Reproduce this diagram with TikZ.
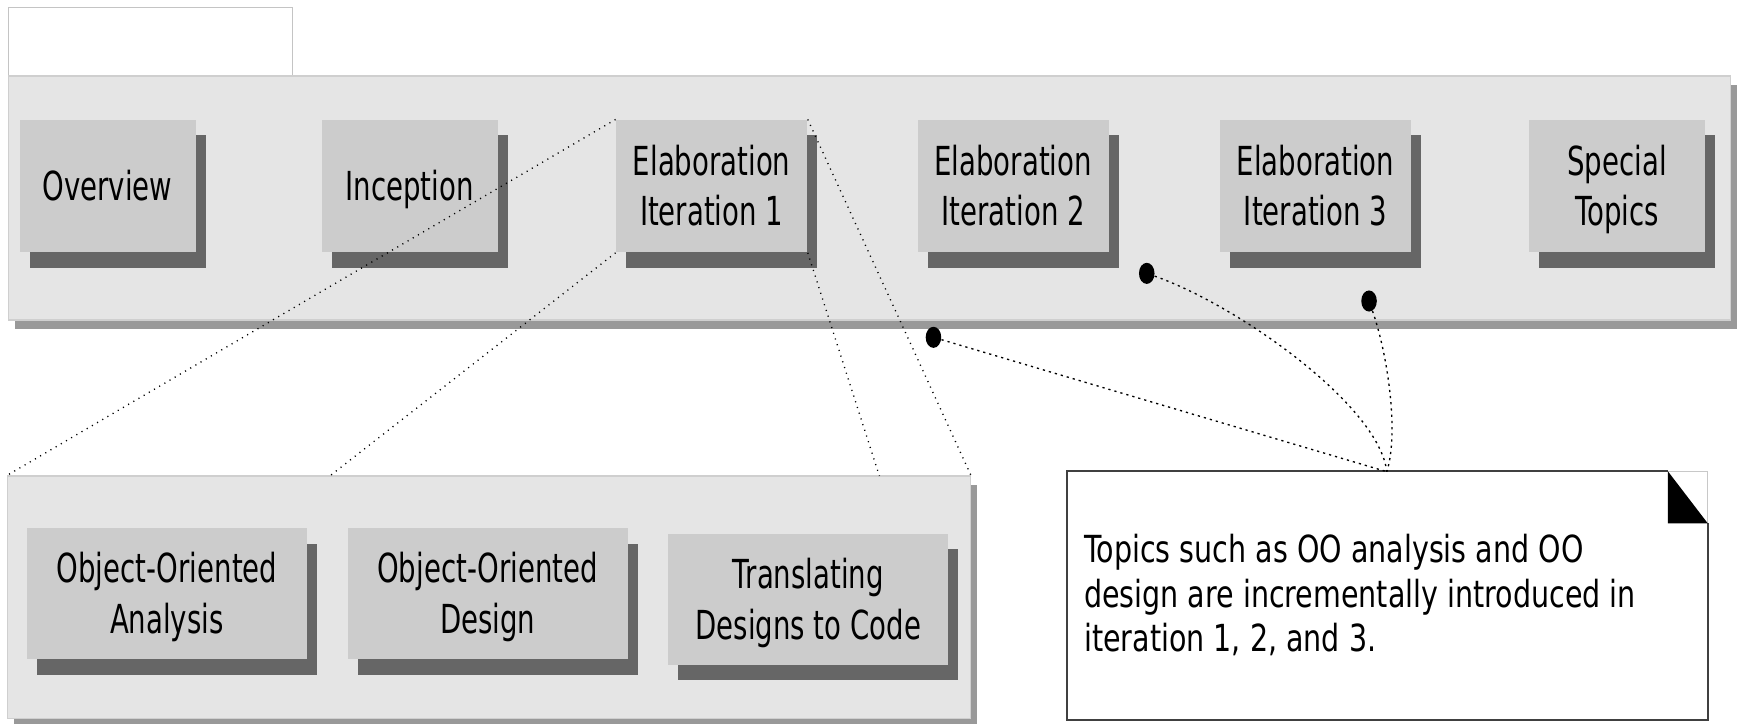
\documentclass[tikz,border=0pt]{standalone}
\usepackage{fontspec}
\setmainfont{DejaVu Sans}[FakeStretch=0.69]
\newfontfamily\notefont{DejaVu Sans}[FakeStretch=0.765]
\usetikzlibrary{shapes.geometric,shadows,calc}
\definecolor{boxfill}{HTML}{CCCCCC}
\definecolor{boxshadow}{HTML}{666666}
\definecolor{panelfill}{HTML}{E5E5E5}
\definecolor{panelshadow}{HTML}{999999}
\definecolor{panelline}{HTML}{CFCFCF}
\definecolor{tabline}{HTML}{C4C4C4}
\definecolor{noteline}{HTML}{404040}
\definecolor{cornerline}{HTML}{C8C8C8}
\newcommand\boxstrut{\rule[-4.75pt]{0pt}{22.5pt}}
\newcommand\subboxstrut{\rule[-5pt]{0pt}{23pt}}
\begin{document}
\begin{tikzpicture}[x=0.5pt,y=-0.5pt,
  panel/.style={rectangle, fill=panelfill, draw=panelline, line width=0.5pt, inner sep=0pt,
    general shadow={fill=panelshadow, draw=none, shadow xshift=3pt, shadow yshift=-4pt}},
  tabbox/.style={rectangle, fill=white, draw=tabline, line width=0.5pt, inner sep=0pt},
  stepbox/.style={rectangle, fill=boxfill, draw=none, inner sep=0pt, align=center,
    font=\fontsize{18}{22.5}\selectfont,
    general shadow={fill=boxshadow, draw=none, shadow xshift=4.5pt, shadow yshift=-7pt}},
  narrowbox/.style={stepbox, minimum width=79.25pt, minimum height=59.65pt},
  widebox/.style={stepbox, minimum width=86.15pt, minimum height=59.65pt},
  subbox/.style={stepbox, minimum width=126pt, minimum height=59pt, font=\fontsize{18}{23}\selectfont},
  dot/.style={ellipse, fill=black, draw=none, minimum width=7pt, minimum height=9.5pt, inner sep=0pt},
  zoomlink/.style={draw=black, line width=0.6pt, dash pattern=on 0.5pt off 2.2pt},
  notelink/.style={draw=black, line width=0.6pt, dash pattern=on 1pt off 1.8pt},
  notetext/.style={inner sep=0pt, align=left, font=\notefont\fontsize{16.8}{20}\selectfont}
]
\useasboundingbox (0,0) rectangle (1568,652);
\fill[white] (0,0) rectangle (1568,652);

% tab and panels
\node[tabbox, minimum width=128.05pt, minimum height=31.2pt] (tab) at (135.65,37.8) {};
\node[panel, minimum width=775.55pt, minimum height=109.85pt] (main) at (783.15,178.35) {};
\node[panel, minimum width=433.6pt, minimum height=109.1pt] (sub) at (440.4,537.8) {};

% top row
\node[narrowbox] (ov)  at (96.85,167.65)  {\boxstrut Overview};
\node[narrowbox] (inc) at (368.85,167.65) {\boxstrut Inception};
\node[widebox]   (el1) at (640.95,167.65) {\boxstrut Elaboration\\\boxstrut Iteration 1};
\node[widebox]   (el2) at (912.5,167.65)  {\boxstrut Elaboration\\\boxstrut Iteration 2};
\node[widebox]   (el3) at (1184.8,167.65) {\boxstrut Elaboration\\\boxstrut Iteration 3};
\node[narrowbox] (sp)  at (1456.35,167.65) {\boxstrut Special\\\boxstrut Topics};

% bottom row
\node[subbox] (ooa) at (150.25,534.65) {\subboxstrut Object-Oriented\\\subboxstrut Analysis};
\node[subbox] (ood) at (439.25,534.65) {\subboxstrut Object-Oriented\\\subboxstrut Design};
\node[subbox] (tdc) at (728,539.6) {\subboxstrut Translating\\\subboxstrut Designs to Code};

% note
\node[rectangle, fill=white, draw=none, minimum width=288.2pt, minimum height=111.55pt, inner sep=0pt] (note) at (1249.5,536.35) {};
\draw[cornerline, line width=0.5pt] ($(note.north east)+(-36,0)$) -- (note.north east) -- ($(note.north east)+(0,47)$);
\draw[noteline, line width=0.7pt] ($(note.north east)+(-36,0)$) -- (note.north west) -- (note.south west) -- (note.south east) -- ($(note.north east)+(0,47)$);
\fill[black] ($(note.north east)+(-36,0)$) -- ($(note.north east)+(-36,47)$) -- ($(note.north east)+(0,47)$) -- cycle;
\node[notetext, anchor=north west] (notetxt) at (976,481) {Topics such as OO analysis and OO\\design are incrementally introduced in\\iteration 1, 2, and 3.};

% zoom lines from Elaboration Iteration 1
\coordinate (c1) at (297,428.7);
\coordinate (c2) at (792,428.7);
\draw[zoomlink] (el1.north west) -- (sub.north west);
\draw[zoomlink] (el1.south west) -- (c1);
\draw[zoomlink] (el1.north east) -- (sub.north east);
\draw[zoomlink] (el1.south east) -- (c2);

% dots and note links
\node[dot] (d1) at (840.7,303.8) {};
\node[dot] (d2) at (1032.8,246.2) {};
\node[dot] (d3) at (1233,271.1) {};
\coordinate (np) at (1249,424.8);
\draw[notelink] (d1) -- (np);
\draw[notelink] (d2) .. controls (1115,275) and (1242,365) .. (np);
\draw[notelink] (d3) .. controls (1250,320) and (1260,390) .. (np);
\end{tikzpicture}
\end{document}
